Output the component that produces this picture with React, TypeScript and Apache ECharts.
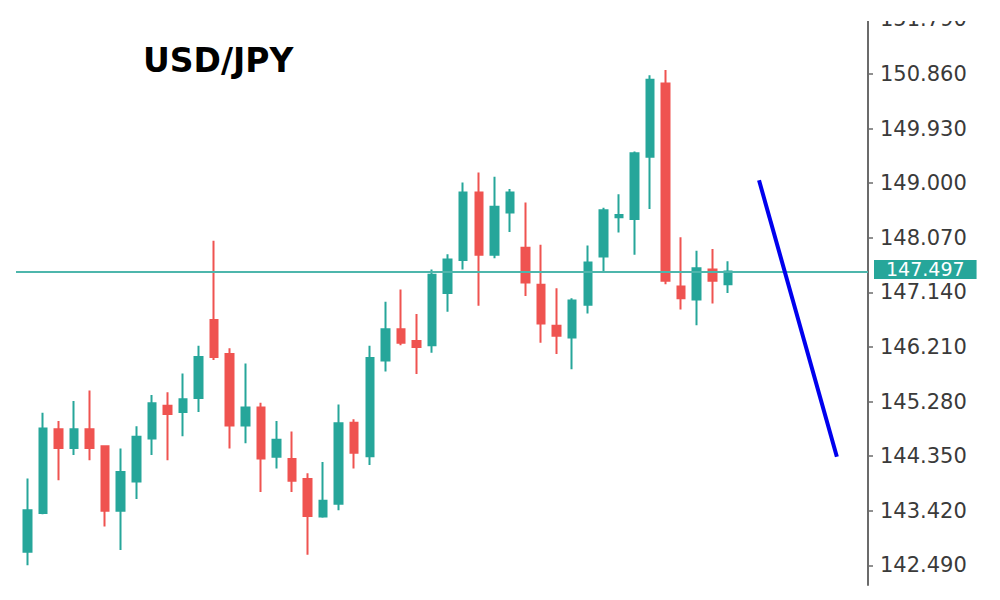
import React, { useEffect, useRef } from "react";
import * as echarts from "echarts";

// OHLC of each session (46 candles)
const opens = [
  142.72, 143.38, 144.81, 144.49, 144.81, 144.52, 143.42, 143.92, 144.65, 145.21,
  145.10, 145.34, 146.67, 146.09, 144.87, 145.18, 144.34, 144.30, 143.96, 143.32,
  143.54, 144.92, 144.35, 145.98, 146.51, 146.31, 146.24, 147.13, 147.69, 148.84,
  147.78, 148.50, 147.90, 147.27, 146.57, 146.37, 146.93, 147.75, 148.42, 148.39,
  149.45, 150.70, 147.24, 147.02, 147.53, 147.28,
];
const closes = [
  143.43, 144.82, 144.49, 144.81, 144.49, 143.42, 144.08, 144.68, 145.25, 145.07,
  145.32, 146.04, 146.04, 144.87, 145.18, 144.31, 144.63, 143.93, 143.33, 143.59,
  144.91, 144.41, 146.02, 146.51, 146.28, 146.21, 147.44, 147.70, 148.84, 147.78,
  148.60, 148.84, 147.31, 146.61, 146.40, 147.00, 147.65, 148.54, 148.46, 149.51,
  150.76, 147.34, 147.04, 147.55, 147.34, 147.497,
];
const lows = [
  142.49, 143.36, 143.94, 144.37, 144.28, 143.15, 142.75, 143.62, 144.37, 144.28,
  144.69, 145.10, 145.99, 144.48, 144.57, 143.74, 144.14, 143.74, 142.67, 143.30,
  143.43, 144.14, 144.20, 145.79, 146.24, 145.75, 146.11, 146.81, 147.53, 146.91,
  147.72, 148.17, 147.08, 146.28, 146.09, 145.83, 146.78, 147.49, 148.16, 147.78,
  148.56, 147.28, 146.85, 146.58, 146.95, 147.13,
];
const highs = [
  143.97, 145.09, 144.95, 145.29, 145.47, 144.53, 144.48, 144.86, 145.39, 145.44,
  145.76, 146.23, 148.02, 146.19, 145.93, 145.26, 144.95, 144.77, 144.06, 144.25,
  145.23, 144.98, 146.23, 146.98, 147.19, 146.77, 147.53, 147.79, 149.01, 149.18,
  149.11, 148.90, 148.67, 147.95, 147.21, 147.04, 147.94, 148.58, 148.81, 149.54,
  150.84, 150.93, 148.08, 147.85, 147.88, 147.67,
];

// 46 sessions plus empty slots up to the price scale
const categories = [
  "1", "2", "3", "4", "5", "6", "7", "8", "9", "10", "11", "12", "13", "14", "15",
  "16", "17", "18", "19", "20", "21", "22", "23", "24", "25", "26", "27", "28", "29", "30",
  "31", "32", "33", "34", "35", "36", "37", "38", "39", "40", "41", "42", "43", "44", "45",
  "46", "47", "48", "49", "50", "51", "52", "53", "54", "55",
];

const currentPrice = 147.497;
const yTicks = [142.49, 143.42, 144.35, 145.28, 146.21, 147.14, 148.07, 149.0, 149.93, 150.86, 151.79];
const trendStart = [47, 149.05];
const trendEnd = [52, 144.34];
const titleText = "USD/JPY";

const UP = "#26a69a";
const DOWN = "#ef5350";

export default function App() {
  const ref = useRef<HTMLDivElement>(null);

  useEffect(() => {
    if (!ref.current) return;
    const chart = echarts.init(ref.current, undefined, { renderer: "svg" });
    const candleData = opens.map((o, i) => [o, closes[i], lows[i], highs[i]]);

    chart.setOption({
      animation: false,
      backgroundColor: "#ffffff",
      grid: { left: 27.3, right: 132, top: 19.4, bottom: 15 },
      xAxis: {
        type: "category",
        data: categories,
        boundaryGap: false,
        show: false,
      },
      yAxis: {
        type: "value",
        position: "right",
        min: 142.155,
        max: 151.79,
        axisLine: { show: true, onZero: false, lineStyle: { color: "#6b6b6b", width: 2 } },
        axisTick: {
          show: true,
          length: 5,
          customValues: yTicks,
          lineStyle: { color: "#6b6b6b", width: 1.5 },
        },
        axisLabel: {
          customValues: yTicks,
          formatter: (v: number) => v.toFixed(3),
          margin: 12,
          color: "#3a3a3a",
          fontFamily: "DejaVu Sans",
          fontSize: 21,
          lineHeight: 17,
        },
        splitLine: { show: false },
      },
      series: [
        {
          type: "candlestick",
          data: candleData,
          clip: false,
          barWidth: 8,
          itemStyle: {
            color: UP,
            color0: DOWN,
            borderColor: UP,
            borderColor0: DOWN,
            borderWidth: 2,
          },
          markLine: {
            silent: true,
            symbol: ["none", "none"],
            lineStyle: { color: "#4db6ac", width: 2, type: "solid" },
            label: {
              show: true,
              position: "end",
              distance: 6,
              offset: [0, -2],
              formatter: currentPrice.toFixed(3),
              backgroundColor: UP,
              color: "#ffffff",
              fontFamily: "DejaVu Sans",
              fontSize: 19,
              lineHeight: 17,
              padding: [1, 12, 1, 12],
            },
            data: [
              [
                { x: 16, yAxis: currentPrice },
                { x: 868, yAxis: currentPrice },
              ],
            ],
          },
        },
        {
          type: "line",
          data: [trendStart, trendEnd],
          symbol: "none",
          clip: false,
          lineStyle: { color: "#0000ee", width: 4 },
          z: 5,
        },
      ],
      graphic: [
        {
          type: "rect",
          z: 100,
          shape: { x: 0, y: 0, width: 1000, height: 21 },
          style: { fill: "#ffffff" },
        },
        {
          type: "text",
          z: 100,
          x: 143,
          y: 60,
          style: {
            text: titleText,
            fill: "#000000",
            font: "bold 33px 'DejaVu Sans'",
            verticalAlign: "middle",
            align: "left",
          },
        },
      ],
    });

    return () => chart.dispose();
  }, []);

  return (
    <div
      ref={ref}
      style={{ position: "fixed", left: 0, top: 0, width: 1000, height: 600 }}
    />
  );
}
